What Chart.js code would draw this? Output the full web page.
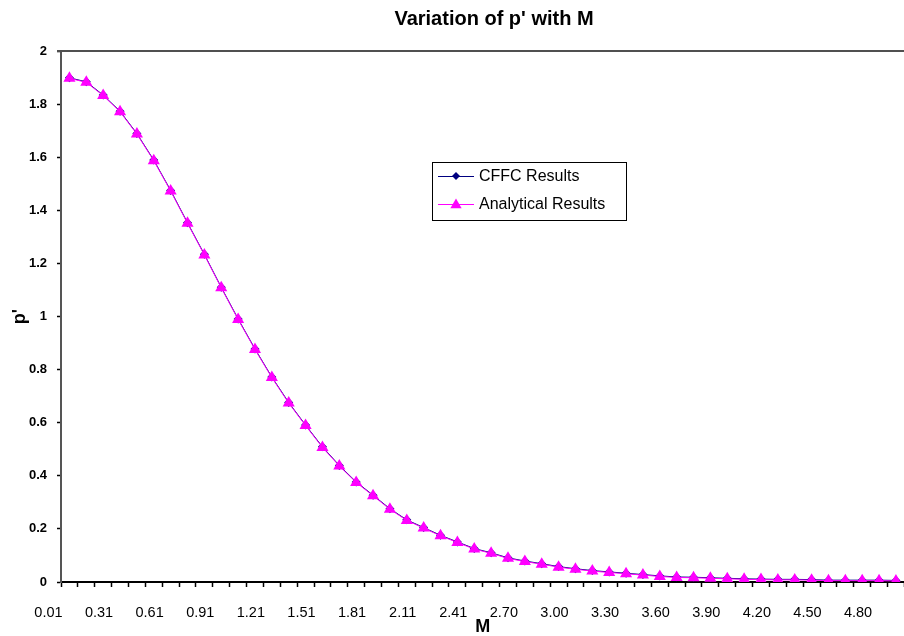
<!DOCTYPE html>
<html>
<head>
<meta charset="utf-8">
<script src="https://cdn.jsdelivr.net/npm/chart.js@4/dist/chart.umd.min.js"></script>
<style>
html,body{margin:0;padding:0;background:#fff;overflow:hidden;}
#wrap{width:913px;height:636px;}
</style>
</head>
<body>
<div id="wrap"><canvas id="c" width="913" height="636"></canvas></div>
<script>
const mValues = ["0.01","0.11","0.21","0.31","0.41","0.51","0.61","0.71","0.81","0.91",
  "1.01","1.11","1.21","1.31","1.41","1.51","1.61","1.71","1.81","1.91",
  "2.01","2.11","2.21","2.31","2.41","2.51","2.60","2.70","2.80","2.90",
  "3.00","3.10","3.20","3.30","3.40","3.50","3.60","3.70","3.80","3.90",
  "4.00","4.10","4.20","4.30","4.40","4.50","4.60","4.70","4.80","4.90"];
const cffcResults = [1.899,1.884,1.834,1.773,1.689,1.589,1.475,1.353,1.234,1.110,
  0.991,0.878,0.772,0.676,0.591,0.509,0.439,0.377,0.327,0.276,
  0.234,0.205,0.176,0.151,0.126,0.110,0.091,0.079,0.069,0.058,
  0.050,0.043,0.038,0.033,0.028,0.023,0.019,0.018,0.016,0.014,
  0.012,0.011,0.010,0.010,0.009,0.007,0.007,0.007,0.007,0.006];
const analyticalResults = [1.897,1.882,1.832,1.771,1.687,1.587,1.473,1.351,1.232,1.108,
  0.989,0.876,0.770,0.674,0.589,0.507,0.437,0.375,0.325,0.274,
  0.232,0.203,0.174,0.149,0.124,0.108,0.089,0.077,0.067,0.056,
  0.048,0.041,0.036,0.031,0.026,0.021,0.017,0.016,0.014,0.012,
  0.010,0.009,0.008,0.008,0.007,0.005,0.005,0.005,0.005,0.004];
const seriesNames = ["CFFC Results","Analytical Results"];
const chartTitle = "Variation of p' with M";
const yTitle = "p'";
const xTitle = "M";

const FONT = "'Liberation Sans', Arial, sans-serif";

function triPath(ctx, x, y, r){
  ctx.beginPath();
  ctx.moveTo(x, y - r);
  ctx.lineTo(x + r*0.866, y + r/2);
  ctx.lineTo(x - r*0.866, y + r/2);
  ctx.closePath();
}
function diaPath(ctx, x, y, r){
  ctx.beginPath();
  ctx.moveTo(x, y - r);
  ctx.lineTo(x + r, y);
  ctx.lineTo(x, y + r);
  ctx.lineTo(x - r, y);
  ctx.closePath();
}

const decor = {
  id: 'decor',
  beforeDatasetsDraw(chart){
    const {ctx, chartArea} = chart;
    ctx.save();
    ctx.strokeStyle = '#505050';
    ctx.lineWidth = 2;
    ctx.beginPath();
    ctx.moveTo(chartArea.left - 4, chartArea.top);
    ctx.lineTo(chartArea.right, chartArea.top);
    ctx.stroke();
    ctx.restore();
  },
  afterDraw(chart){
    const ctx = chart.ctx;
    ctx.save();
    // title
    ctx.fillStyle = '#000';
    ctx.font = "bold 20px " + FONT;
    ctx.textAlign = 'center';
    ctx.textBaseline = 'middle';
    ctx.fillText(chartTitle, 494, 19);
    // legend
    ctx.fillStyle = '#fff';
    ctx.fillRect(432, 162, 194, 58);
    ctx.strokeStyle = '#000';
    ctx.lineWidth = 1;
    ctx.strokeRect(432.5, 162.5, 194, 58);
    const rows = [
      {y: 176, color: '#000080', shape: 'dia'},
      {y: 204, color: '#FF00FF', shape: 'tri'}
    ];
    rows.forEach((r, i) => {
      ctx.strokeStyle = r.color;
      ctx.lineWidth = 1;
      ctx.beginPath();
      ctx.moveTo(438, r.y + 0.5);
      ctx.lineTo(474, r.y + 0.5);
      ctx.stroke();
      ctx.fillStyle = r.color;
      if (r.shape === 'dia') diaPath(ctx, 456, r.y, 4); else triPath(ctx, 456, r.y + 1, 6.5);
      ctx.fill();
      ctx.fillStyle = '#000';
      ctx.font = "16px " + FONT;
      ctx.textAlign = 'left';
      ctx.textBaseline = 'middle';
      ctx.fillText(seriesNames[i], 479, r.y + 1);
    });
    ctx.restore();
  }
};

new Chart(document.getElementById('c'), {
  type: 'line',
  data: {
    labels: mValues,
    datasets: [
      {
        label: seriesNames[0],
        data: cffcResults,
        borderColor: '#000080',
        backgroundColor: '#000080',
        borderWidth: 1,
        pointStyle: 'rectRot',
        pointRadius: 4.5,
        pointBorderWidth: 0,
        order: 1,
        tension: 0
      },
      {
        label: seriesNames[1],
        data: analyticalResults,
        borderColor: '#FF00FF',
        backgroundColor: '#FF00FF',
        borderWidth: 1,
        pointStyle: 'triangle',
        pointRadius: 7,
        pointBorderWidth: 0,
        order: 0,
        tension: 0
      }
    ]
  },
  options: {
    responsive: false,
    animation: false,
    layout: {padding: {top: 51, right: 0, left: 0, bottom: 0}},
    plugins: {
      legend: {display: false},
      title: {display: false},
      tooltip: {enabled: false}
    },
    scales: {
      x: {
        type: 'category',
        offset: true,
        afterFit(s){ s.height = 54; },
        grid: {
          offset: true,
          drawOnChartArea: false,
          drawTicks: true,
          tickLength: 5,
          tickWidth: 1.5,
          tickColor: '#000'
        },
        border: {display: true, color: '#000', width: 2},
        ticks: {
          autoSkip: false,
          maxRotation: 0,
          minRotation: 0,
          padding: 17,
          labelOffset: -21,
          color: '#000',
          font: {family: FONT, size: 14.5},
          callback(val, idx){ return idx % 3 === 0 ? mValues[idx] : ''; }
        },
        title: {
          display: true,
          text: xTitle,
          color: '#000',
          font: {family: FONT, size: 18, weight: 'bold'},
          padding: {top: 0, bottom: -2}
        }
      },
      y: {
        min: 0,
        max: 2,
        afterFit(s){ s.width = 61; },
        grid: {
          drawOnChartArea: false,
          drawTicks: true,
          tickLength: 4,
          tickWidth: 1.5,
          tickColor: '#000'
        },
        border: {display: true, color: '#555', width: 2},
        ticks: {
          stepSize: 0.2,
          padding: 10,
          color: '#000',
          font: {family: FONT, size: 13, weight: 'bold'},
          callback(val){ return String(Number(val.toFixed(1))); }
        },
        title: {
          display: true,
          text: yTitle,
          color: '#000',
          font: {family: FONT, size: 18, weight: 'bold'},
          padding: {top: 9, bottom: 0}
        }
      }
    }
  },
  plugins: [decor]
});
</script>
</body>
</html>
